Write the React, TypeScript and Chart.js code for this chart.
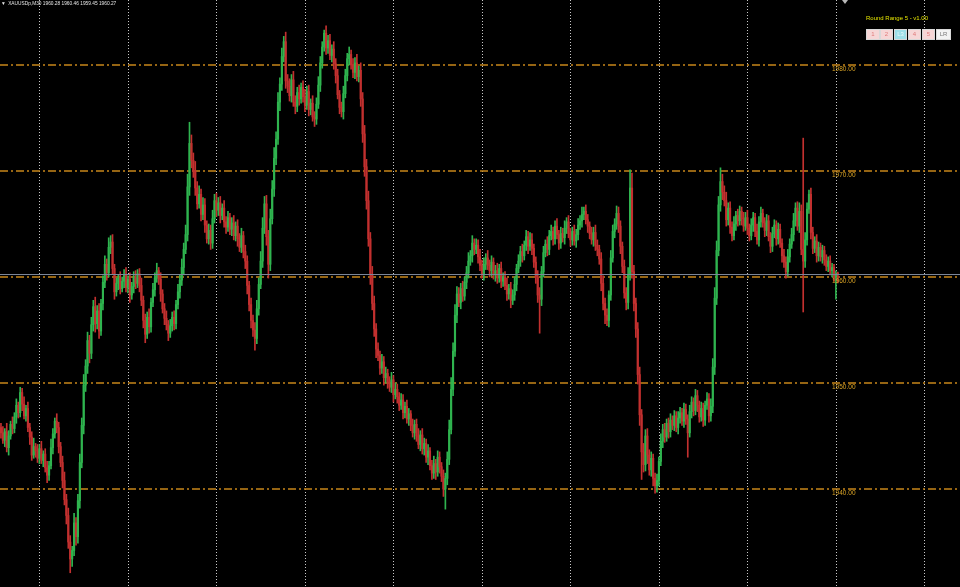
import React, { useEffect, useRef } from "react";
import { Chart, registerables } from "chart.js";

Chart.register(...registerables);

const SYMBOL = "XAUUSDp,M30";
const LAST_OHLC = ["1960.28", "1960.46", "1959.45", "1960.27"];
const INDICATOR_TITLE = "Round Range 5 - v1.00";
const BUTTONS = ["1", "2", "L3", "4", "5", "LR"];

const FIRST_OPEN = 1945.8;
const closes = [
  1945.3, 1944.6, 1945.4, 1943.9, 1945.0, 1946.1, 1945.7, 1946.8, 1947.9, 1947.2,
  1949.1, 1948.0, 1946.9, 1947.6, 1945.8, 1944.9, 1943.2, 1944.0, 1943.6, 1942.9,
  1943.8, 1942.7, 1943.3, 1942.0, 1941.3, 1942.2, 1943.9, 1945.2, 1946.4, 1945.8,
  1944.0, 1942.5, 1940.8, 1939.0, 1937.5, 1935.0, 1933.4, 1934.2, 1936.8, 1935.5,
  1938.9, 1942.5, 1946.0, 1949.8, 1951.6, 1954.0, 1952.8, 1955.5, 1957.2, 1955.6,
  1956.8, 1954.9, 1957.5, 1959.5, 1961.2, 1960.4, 1962.8, 1963.3, 1960.8, 1958.6,
  1959.4, 1959.9, 1958.9, 1959.6, 1960.2, 1959.0, 1959.8, 1958.3, 1959.1, 1960.0,
  1959.4, 1960.3, 1959.2, 1957.8, 1955.9, 1954.6, 1956.2, 1955.3, 1957.6, 1958.8,
  1959.9, 1960.6, 1959.8, 1958.4, 1957.0, 1956.1, 1955.5, 1954.7, 1955.4, 1956.2,
  1955.6, 1957.4, 1958.6, 1959.7, 1960.9, 1962.6, 1964.0, 1968.5, 1972.6, 1971.0,
  1970.0, 1968.4, 1966.9, 1967.8, 1965.9, 1966.8, 1964.9, 1963.6, 1964.4, 1963.2,
  1965.5, 1967.2, 1966.3, 1967.0, 1965.8, 1966.5, 1965.2, 1964.7, 1965.6, 1964.5,
  1965.1, 1963.9, 1964.8, 1963.6, 1962.8, 1963.9, 1962.4, 1961.5, 1959.2, 1957.4,
  1955.9, 1955.0, 1954.2, 1957.0, 1959.3, 1961.5, 1964.6, 1966.9, 1963.8, 1961.2,
  1965.5, 1968.3, 1971.2, 1973.0, 1976.5, 1978.2, 1980.8, 1982.2, 1978.5, 1978.0,
  1977.1, 1978.6, 1976.5, 1976.1, 1977.4, 1976.8, 1977.9, 1977.0, 1976.2, 1977.5,
  1975.8, 1976.4, 1975.1, 1974.9, 1976.3, 1978.1, 1980.2, 1981.7, 1983.0, 1981.6,
  1982.3, 1980.9, 1981.5, 1980.1, 1979.0, 1977.2, 1976.0, 1975.6, 1977.3, 1979.0,
  1980.6, 1981.0, 1980.0, 1979.3, 1980.2, 1978.9, 1979.5, 1976.8, 1973.5, 1970.4,
  1967.2, 1963.6, 1960.2, 1957.5, 1955.1, 1953.2, 1952.6, 1951.4, 1952.0, 1950.5,
  1950.9, 1950.1, 1949.6, 1950.3, 1948.9, 1949.4, 1948.7, 1947.9, 1948.4, 1947.2,
  1947.8, 1946.6, 1947.1, 1946.0, 1945.3, 1946.1, 1945.0, 1944.2, 1945.1, 1943.8,
  1944.3, 1943.0, 1943.6, 1942.2, 1941.5, 1942.4, 1941.6, 1943.0, 1942.1, 1941.2,
  1940.0, 1941.0, 1942.8, 1945.6, 1949.4, 1953.0, 1956.4, 1958.4, 1957.6, 1958.9,
  1958.2, 1959.5, 1960.4, 1961.5, 1962.0, 1963.2, 1962.6, 1963.0, 1961.9, 1961.1,
  1960.3, 1961.2, 1961.8, 1961.1, 1960.6, 1961.4, 1960.2, 1960.6, 1959.9, 1960.8,
  1959.6, 1960.0, 1959.2, 1958.4, 1958.9, 1957.8, 1958.3, 1959.3, 1960.8, 1961.5,
  1962.4, 1962.0, 1963.0, 1963.8, 1962.9, 1963.5, 1962.7, 1961.4, 1960.0, 1958.3,
  1957.9, 1960.5, 1962.3, 1963.1, 1962.6, 1963.9, 1964.3, 1963.6, 1964.8, 1964.0,
  1963.2, 1964.1, 1963.7, 1964.6, 1965.2, 1964.1, 1963.5, 1964.3, 1963.4, 1964.0,
  1964.9, 1965.3, 1965.9, 1966.2, 1965.4, 1964.8, 1964.1, 1963.5, 1964.2, 1963.0,
  1962.6, 1961.7, 1959.4, 1957.5, 1956.4, 1955.9, 1958.3, 1961.8, 1964.3, 1965.0,
  1966.0, 1964.8, 1962.9, 1961.0, 1958.5, 1957.6, 1960.2, 1968.4, 1960.5, 1957.5,
  1955.1, 1950.8, 1947.0, 1943.5, 1942.3, 1945.0, 1943.2, 1941.8, 1942.9, 1941.0,
  1940.3, 1940.8, 1942.6, 1944.5, 1945.6, 1944.9, 1946.2, 1945.4, 1946.5, 1946.0,
  1946.9, 1945.8, 1946.7, 1947.2, 1946.4, 1947.5, 1946.6, 1945.3, 1947.3, 1948.2,
  1947.4, 1948.8, 1947.9, 1946.8, 1947.6, 1946.5, 1947.9, 1948.5, 1946.9, 1947.8,
  1951.5, 1958.0, 1962.5, 1966.8, 1969.0, 1968.0, 1967.2, 1965.4, 1966.5, 1964.7,
  1963.9, 1965.0, 1965.8, 1965.3, 1966.2, 1965.5, 1964.8, 1965.6, 1964.6, 1963.9,
  1964.9, 1965.6, 1964.3, 1963.5, 1965.2, 1966.0, 1965.1, 1964.4, 1965.3, 1963.8,
  1962.9, 1964.1, 1964.9, 1963.6, 1964.5, 1963.2, 1962.0, 1961.4, 1960.5, 1961.9,
  1963.1, 1964.0, 1965.3, 1966.5, 1964.8, 1966.2, 1962.6, 1961.5, 1963.5, 1966.4,
  1967.8, 1964.2, 1962.7, 1963.4, 1962.0, 1962.8, 1961.9, 1962.5, 1961.6, 1961.0,
  1961.5, 1960.6, 1960.9, 1960.1, 1960.28, 1960.27,
];

const upperWicks = [
  .4, .6, .3, .8, .5, .3, .7, .4, .6, .3,
  .5, .4, .7, .3, .6, .4, .5, .8, .3, .6,
  .4, .7, .3, .5, .6, .4, .8, .5, .3, .7,
  .5, .4, .6, .8, .5, .7, .6, .4, .9, .5,
  .6, .8, .7, 1.0, .6, .8, .5, .7, .6, .9,
  .5, .7, .4, .6, .8, .5, .9, .6, .7, .4,
  .5, .3, .6, .4, .5, .7, .3, .6, .4, .5,
  .6, .4, .5, .7, .4, .6, .5, .8, .4, .6,
  .5, .7, .3, .6, .4, .5, .7, .4, .6, .5,
  .6, .4, .7, .5, .8, .6, .9, 1.2, 2.0, .8,
  .7, .9, .6, .8, .5, .7, .6, .4, .6, .5,
  .8, .6, .7, .5, .6, .4, .7, .5, .6, .4,
  .5, .7, .4, .6, .5, .7, .4, .6, .5, .4,
  .6, .5, .7, .8, .6, .9, 1.0, .7, .8, .6,
  .9, .8, 1.0, .7, .9, .6, .8, .5, .9, .6,
  .7, .5, .8, .6, .5, .7, .4, .6, .7, .5,
  .6, .4, .7, .5, .6, .8, .6, .5, .3, .7,
  .5, .6, .4, .7, .5, .6, .4, .5, .7, .6,
  .5, .7, .4, .6, .5, .8, .4, .7, .6, .8,
  .7, .9, .6, .8, .7, .5, .6, .4, .7, .5,
  .6, .4, .5, .7, .4, .6, .5, .4, .6, .5,
  .4, .6, .5, .3, .6, .4, .5, .7, .4, .6,
  .5, .4, .6, .3, .5, .7, .4, .6, .5, .4,
  .6, .5, .7, .9, 1.1, .8, 1.0, .7, .6, .5,
  .7, .5, .6, .8, .5, .7, .4, .6, .5, .7,
  .5, .6, .4, .7, .5, .6, .4, .5, .7, .4,
  .6, .4, .5, .7, .4, .6, .5, .7, .4, .6,
  .5, .7, .4, .6, .5, .7, .6, .4, .5, .6,
  .7, .5, .6, .4, .7, .5, .6, .4, .5, .7,
  .4, .6, .5, .7, .4, .6, .5, .4, .6, .5,
  .6, .5, .7, .4, .6, .5, .4, .6, .5, .7,
  .5, .4, .6, .7, .5, .6, .4, .7, .6, .5,
  .7, .6, .5, .4, .6, .5, .7, 1.7, 1.4, .6,
  .5, .6, .7, .5, .8, .6, .7, .5, .6, .4,
  .5, .6, .4, .7, .5, .6, .4, .5, .6, .4,
  .5, .4, .6, .5, .4, .6, .5, .4, .6, .5,
  .4, .6, .5, .4, .6, .5, .4, .6, .5, .7,
  .8, 1.0, .9, .8, 1.3, .7, .6, .8, .5, .6,
  .5, .7, .4, .6, .5, .4, .6, .5, .7, .4,
  .6, .5, .4, .7, .5, .6, .4, .5, .6, .5,
  .4, .6, .5, .4, .6, .5, .4, .6, .5, .7,
  .5, .6, .7, .5, .6, .8, .6, 10.5, .7, .6,
  .4, .6, .5, .4, .6, .5, .4, .5, .4, .5,
  .4, .5, .4, .3, .3, .18,
];

const lowerWicks = [
  .5, .3, .6, .4, .7, .3, .5, .4, .6, .5,
  .4, .6, .3, .5, .4, .7, .5, .3, .6, .4,
  .5, .3, .6, .4, .7, .5, .3, .6, .4, .5,
  .6, .4, .7, .5, .8, .6, 1.3, .7, .5, .8,
  .6, .7, .5, .8, .6, .7, .9, .5, .6, .8,
  .5, .7, .4, .6, .5, .7, .4, .6, .5, .7,
  .4, .6, .5, .3, .6, .4, .5, .7, .4, .6,
  .5, .4, .6, .5, .7, .8, .4, .6, .5, .4,
  .6, .4, .5, .7, .4, .6, .5, .7, .4, .5,
  .6, .5, .4, .6, .5, .7, .4, .6, .8, .7,
  .6, .7, .5, .4, .6, .5, .7, .4, .5, .6,
  .5, .4, .6, .5, .7, .4, .5, .6, .4, .5,
  .6, .4, .5, .7, .4, .5, .6, .7, .8, .6,
  .7, .6, 1.1, .5, .6, .4, .6, .5, .8, 1.3,
  .6, .5, .7, .6, .5, .8, .6, .5, .7, .6,
  .5, .6, .4, .7, .5, .6, .4, .5, .6, .4,
  .6, .5, .4, .7, .5, .4, .6, .5, .4, .6,
  .5, .4, .6, .5, .7, .4, .6, .5, .7, .4,
  .5, .6, .4, .5, .6, .4, .5, .7, .8, .9,
  .8, .7, .9, .6, .7, .8, .5, .6, .5, .7,
  .5, .6, .4, .5, .7, .4, .6, .5, .4, .6,
  .5, .4, .6, .5, .4, .6, .5, .4, .6, .5,
  .6, .5, .7, .4, .6, .5, .7, .4, .6, .5,
  .7, 1.9, .6, .5, .4, .6, .5, .7, .4, .6,
  .5, .4, .6, .5, .4, .6, .5, .4, .6, .5,
  .4, .6, .5, .4, .6, .5, .4, .6, .5, .4,
  .6, .5, .4, .6, .5, .7, .4, .5, .6, .4,
  .5, .6, .4, .5, .7, .4, .6, .5, .6, .7,
  3.2, .6, .5, .4, .6, .5, .4, .6, .5, .4,
  .6, .5, .4, .6, .5, .4, .6, .5, .4, .6,
  .5, .4, .6, .5, .4, .6, .5, .4, .6, .5,
  .6, .5, .7, .6, .8, .5, .6, .5, .4, .6,
  .5, .6, .7, .6, .5, .7, .6, .5, .6, .7,
  .8, .9, 1.0, 2.6, .7, .6, .8, .5, .6, .7,
  .7, .6, .5, .4, .6, .5, .4, .6, .5, .4,
  .5, .4, .6, .5, .4, .6, .5, 2.3, .4, .6,
  .5, .4, .6, .5, .4, .6, .5, .4, .6, .5,
  .6, .7, .6, .5, .6, .7, .5, .6, .5, .6,
  .5, .4, .6, .5, .4, .6, .5, .4, .6, .5,
  .4, .6, .5, .4, .6, .5, .4, .6, .5, .4,
  .6, .5, .4, .6, .5, .4, .6, .5, .6, .4,
  .5, .4, .6, .5, .4, .6, .5, 4.8, .6, .5,
  .4, .6, .5, .4, .6, .5, .4, .6, .5, .4,
  .5, .4, .6, .5, 2.2, .82,
];

const LEVELS = [1940, 1950, 1960, 1970, 1980];
const BID = 1960.27;
const GRID_BARS = [20, 66, 112, 158, 204, 250, 296, 342, 388, 434, 480];
const SLOTS = 499;
const Y_MIN = 1930.755;
const Y_MAX = 1986.132;

const UP = "#2fb44f";
const DOWN = "#c2302f";

const mtPlugin = {
  id: "mtDecor",
  beforeDatasetsDraw(chart: any) {
    const { ctx, chartArea, scales } = chart;
    const xs = scales.x;
    const ys = scales.y;
    ctx.save();
    ctx.lineWidth = 1;
    ctx.strokeStyle = "#c8c8c8";
    ctx.setLineDash([1, 2]);
    GRID_BARS.forEach((b) => {
      const px = Math.round(xs.getPixelForValue(b)) + 0.5;
      ctx.beginPath();
      ctx.moveTo(px, chartArea.top);
      ctx.lineTo(px, chartArea.bottom);
      ctx.stroke();
    });
    ctx.strokeStyle = "#c8861a";
    ctx.lineWidth = 1.6;
    ctx.setLineDash([8, 3, 2, 3]);
    LEVELS.forEach((v) => {
      const py = Math.round(ys.getPixelForValue(v));
      ctx.beginPath();
      ctx.moveTo(chartArea.left, py);
      ctx.lineTo(chartArea.right, py);
      ctx.stroke();
    });
    ctx.restore();
  },
  afterDatasetsDraw(chart: any) {
    const { ctx, chartArea, scales } = chart;
    const ys = scales.y;
    ctx.save();
    ctx.strokeStyle = "#7c8698";
    ctx.lineWidth = 1;
    const by = Math.round(ys.getPixelForValue(BID)) + 0.5;
    ctx.beginPath();
    ctx.moveTo(chartArea.left, by);
    ctx.lineTo(chartArea.right, by);
    ctx.stroke();
    ctx.fillStyle = "#d9a325";
    ctx.font = '6.5px "Liberation Sans", Arial, sans-serif';
    ctx.textBaseline = "top";
    ctx.textAlign = "left";
    LEVELS.forEach((v) => {
      const py = ys.getPixelForValue(v);
      ctx.fillText(v.toFixed(2), 832, py + 1);
    });
    ctx.fillStyle = "#b8b8b8";
    ctx.beginPath();
    ctx.moveTo(842, 0);
    ctx.lineTo(848, 0);
    ctx.lineTo(845, 4);
    ctx.closePath();
    ctx.fill();
    ctx.restore();
  },
};

export default function App() {
  const ref = useRef<HTMLCanvasElement>(null);

  useEffect(() => {
    document.body.style.margin = "0";
    document.body.style.background = "#000";
    const canvas = ref.current;
    if (!canvas) return;
    const opens = closes.map((c, i) => (i === 0 ? FIRST_OPEN : closes[i - 1]));
    const highs = closes.map((c, i) => Math.max(opens[i], c) + upperWicks[i]);
    const lows = closes.map((c, i) => Math.min(opens[i], c) - lowerWicks[i]);
    const colors = closes.map((c, i) => (c >= opens[i] ? UP : DOWN));
    const labels = Array.from({ length: SLOTS }, (_, i) => String(i));

    const chart = new Chart(canvas, {
      type: "bar",
      data: {
        labels,
        datasets: [
          {
            data: closes.map((c, i) => [lows[i], highs[i]]),
            backgroundColor: colors,
            barThickness: 1,
            grouped: false,
            order: 2,
          } as any,
          {
            data: closes.map((c, i) => [opens[i], c]),
            backgroundColor: colors,
            barThickness: 1.5,
            grouped: false,
            minBarLength: 1,
            order: 1,
          } as any,
        ],
      },
      options: {
        responsive: false,
        animation: false,
        devicePixelRatio: 1,
        layout: { padding: 0 },
        plugins: { legend: { display: false }, tooltip: { enabled: false } },
        scales: {
          x: { display: false, offset: true, grid: { display: false } },
          y: { display: false, min: Y_MIN, max: Y_MAX, grid: { display: false } },
        },
      },
      plugins: [mtPlugin],
    });
    return () => chart.destroy();
  }, []);

  const btnLeft = [866, 880, 894, 908, 922, 936];
  const btnWidth = [14, 13, 13, 13, 13, 15];

  return (
    <div style={{ position: "relative", width: 960, height: 587, background: "#000", overflow: "hidden" }}>
      <canvas ref={ref} width={960} height={587} style={{ display: "block" }} />
      <div
        style={{
          position: "absolute",
          left: 1,
          top: 1,
          color: "#e6e6e6",
          fontFamily: '"Liberation Sans", Arial, sans-serif',
          fontSize: 6,
          lineHeight: "6px",
          whiteSpace: "nowrap",
          transform: "scale(0.8)",
          transformOrigin: "left top",
        }}
      >
        <span style={{ marginRight: 3 }}>▼</span>
        {SYMBOL + "  " + LAST_OHLC.join(" ")}
      </div>
      <div
        style={{
          position: "absolute",
          left: 866,
          top: 15,
          color: "#e2e200",
          fontFamily: '"Liberation Sans", Arial, sans-serif',
          fontSize: 6,
          lineHeight: "7px",
          whiteSpace: "nowrap",
        }}
      >
        {INDICATOR_TITLE}
      </div>
      {BUTTONS.map((b, i) => (
        <div
          key={b}
          style={{
            position: "absolute",
            left: btnLeft[i],
            top: 29,
            width: btnWidth[i],
            height: 11,
            boxSizing: "border-box",
            border: "1px solid #d8d8d8",
            background: b === "L3" ? "#9edfe8" : b === "LR" ? "#f2f2f2" : "#f6d6d6",
            color: b === "L3" ? "#e8f8fa" : b === "LR" ? "#7a7a7a" : "#e07a7a",
            fontFamily: '"Liberation Sans", Arial, sans-serif',
            fontSize: 6,
            lineHeight: "9px",
            textAlign: "center",
          }}
        >
          {b}
        </div>
      ))}
    </div>
  );
}
